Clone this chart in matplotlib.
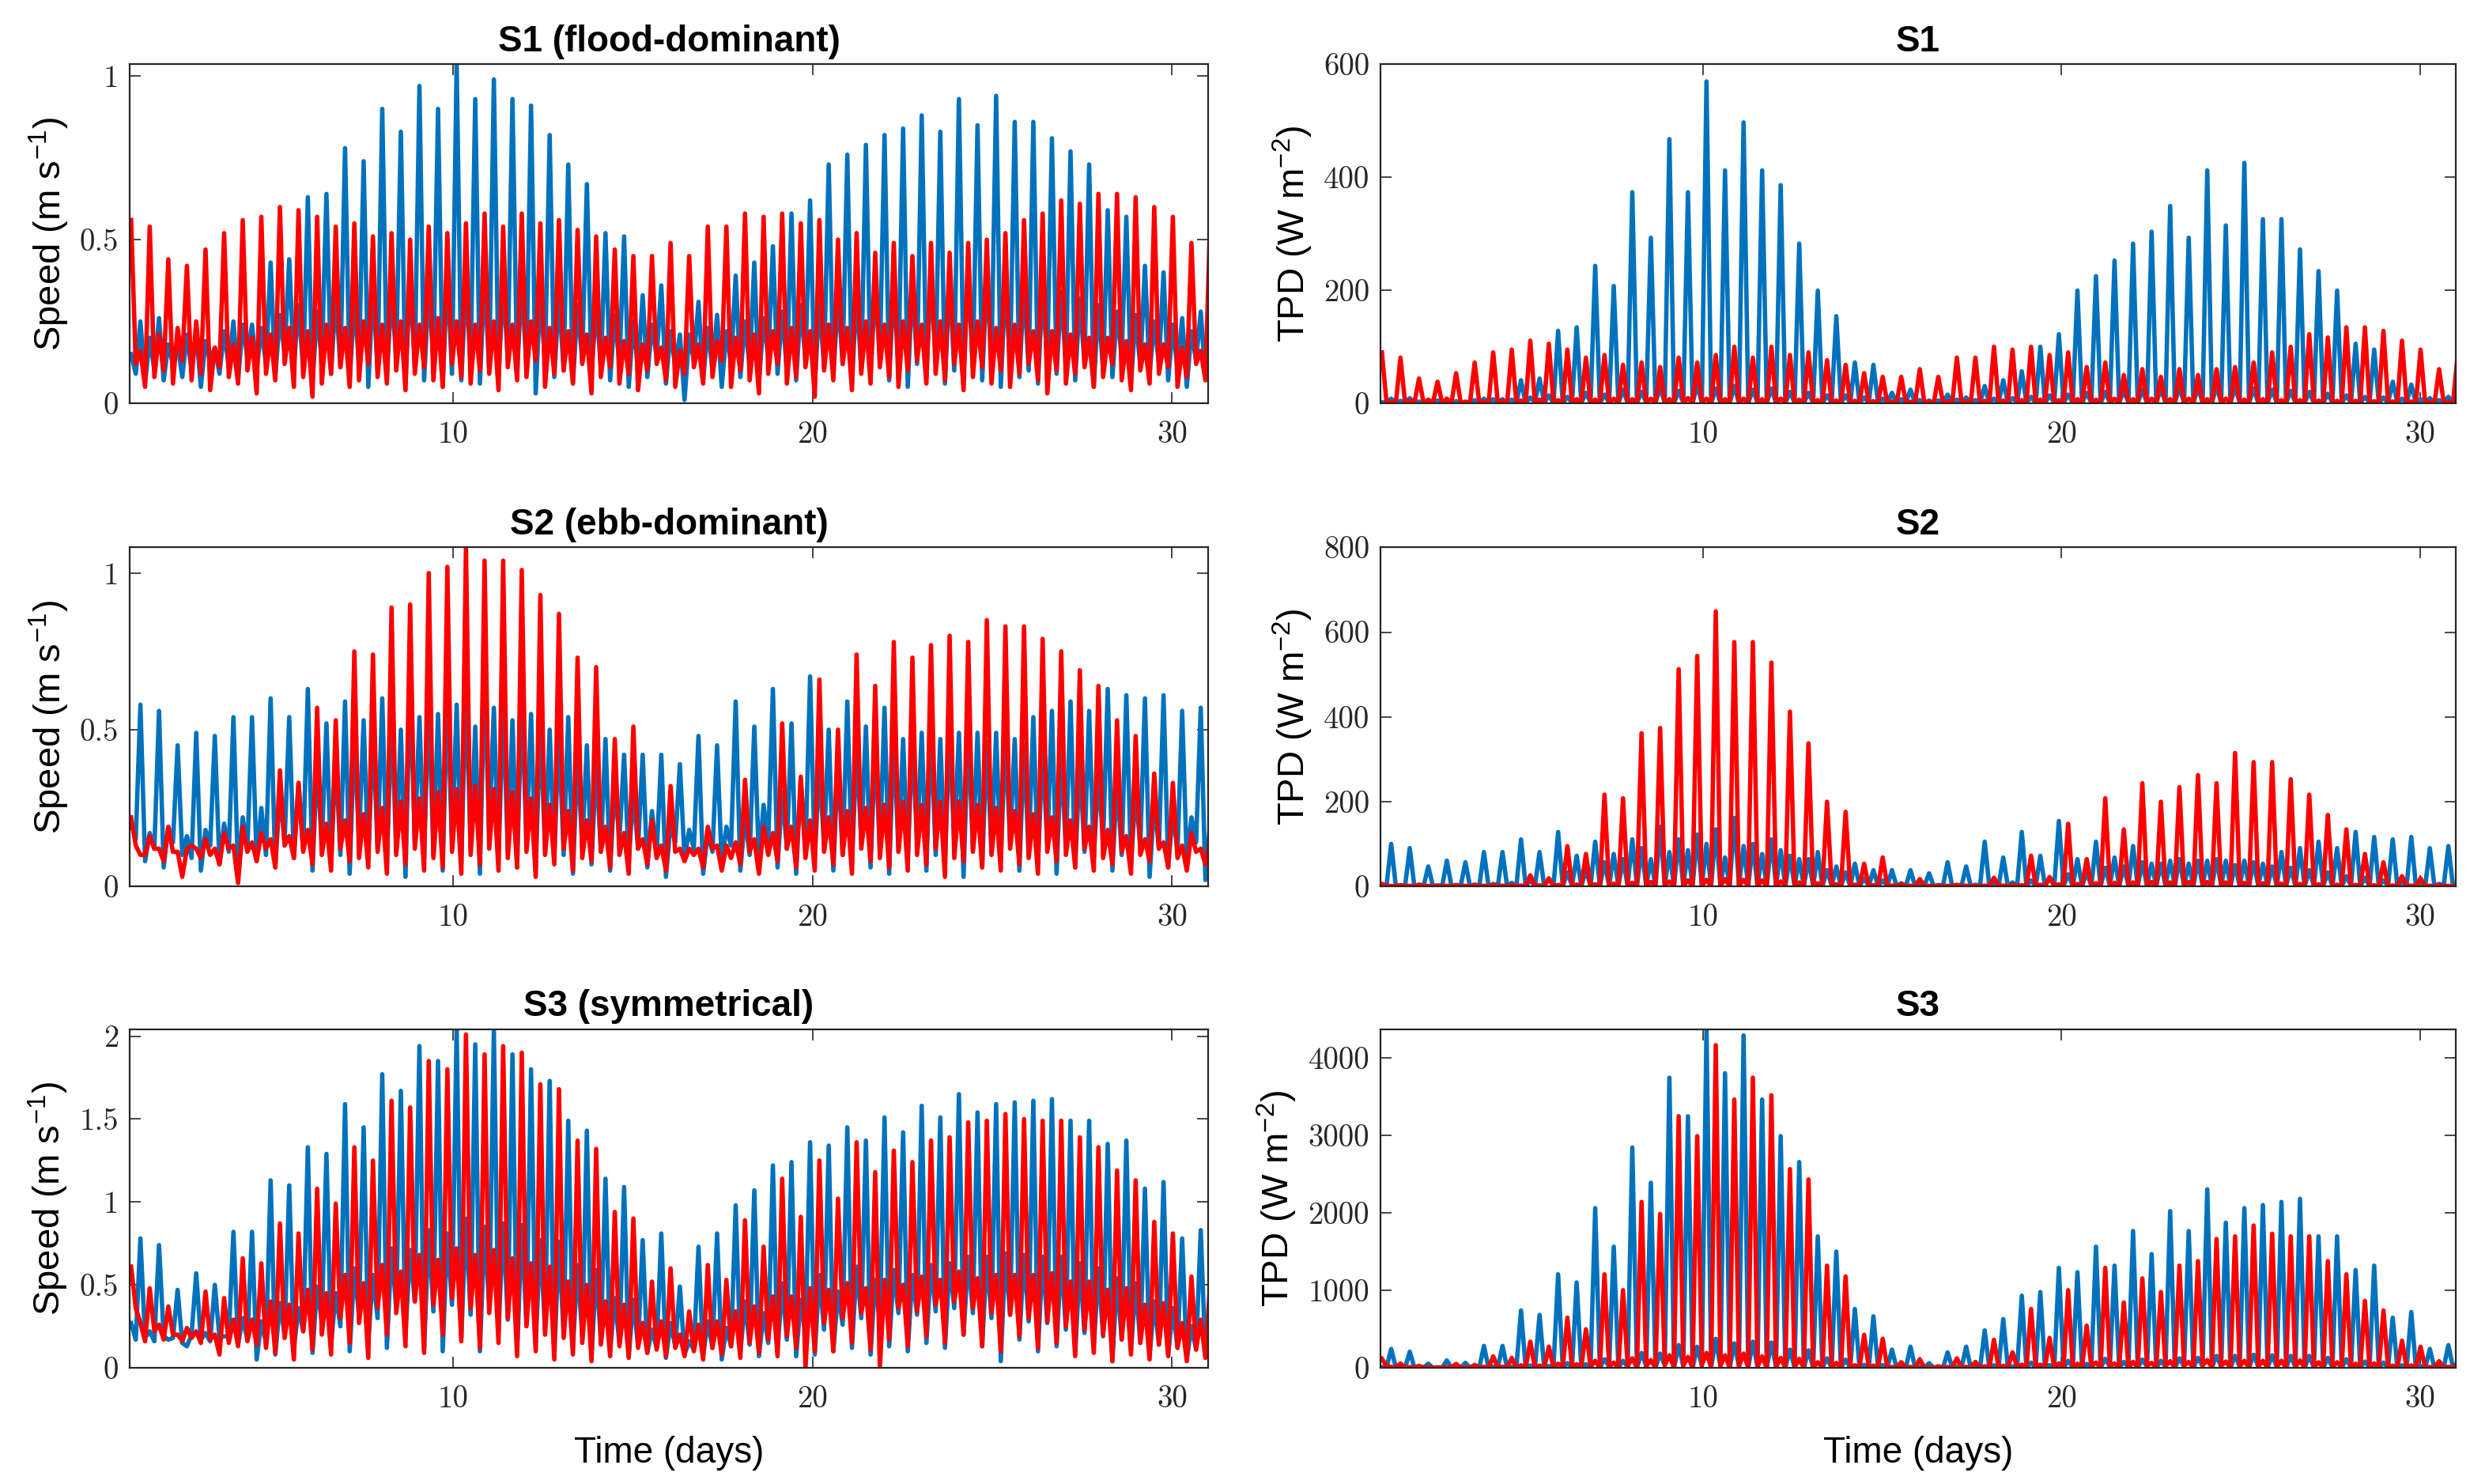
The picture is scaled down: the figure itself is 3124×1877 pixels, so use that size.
import numpy as np
import matplotlib
matplotlib.use("Agg")
import matplotlib.pyplot as plt
from matplotlib.ticker import FuncFormatter

# samples are taken every quarter of an M2 cycle:
# ebb peak, trough, flood peak, trough, next ebb peak, ...
T_START = 1.04      # days, time of the first ebb peak
PERIOD = 0.5175     # days, semidiurnal cycle
RHO = 1025.0        # kg m-3, used for TPD = 0.5 rho U^3

BLUE = "#0072BD"
RED = "#FF0000"
AXIS_GREY = "#262626"

TITLES_SPEED = ["S1 (flood-dominant)", "S2 (ebb-dominant)", "S3 (symmetrical)"]
TITLES_TPD = ["S1", "S2", "S3"]
DAY_TICKS = [10, 20, 30]
SPEED_TICKS = [[0, 0.5, 1], [0, 0.5, 1], [0, 0.5, 1, 1.5, 2]]
TPD_TICKS = [[0, 200, 400, 600], [0, 200, 400, 600, 800], [0, 1000, 2000, 3000, 4000]]
TPD_TOP = [600, 800, None]   # None -> tight to the data

# ---------------- S1 ----------------
s1_blue_flood = [
    0.25, 0.26, 0.18, 0.22, 0.17, 0.25, 0.24, 0.43, 0.44, 0.63,
    0.64, 0.78, 0.74, 0.90, 0.83, 0.97, 0.90, 1.036, 0.93, 0.99,
    0.93, 0.91, 0.82, 0.73, 0.67, 0.52, 0.51, 0.33, 0.36, 0.21,
    0.31, 0.27, 0.39, 0.43, 0.48, 0.58, 0.62, 0.73, 0.76, 0.79,
    0.82, 0.84, 0.88, 0.83, 0.93, 0.85, 0.94, 0.86, 0.86, 0.81,
    0.77, 0.73, 0.59, 0.57, 0.42, 0.40, 0.26, 0.28,
]
s1_blue_ebb = [
    0.15, 0.20, 0.18, 0.21, 0.19, 0.22, 0.24, 0.23, 0.27, 0.30,
    0.28, 0.33, 0.31, 0.36, 0.34, 0.38, 0.35, 0.40, 0.37, 0.39,
    0.36, 0.37, 0.34, 0.33, 0.30, 0.30, 0.27, 0.25, 0.24, 0.22,
    0.21, 0.23, 0.22, 0.25, 0.26, 0.28, 0.30, 0.31, 0.33, 0.34,
    0.35, 0.36, 0.37, 0.38, 0.38, 0.39, 0.38, 0.37, 0.36, 0.35,
    0.34, 0.32, 0.30, 0.28, 0.27, 0.25, 0.24, 0.22, 0.22,
]
s1_blue_trough = [
    0.09, 0.06, 0.10, 0.07, 0.12, 0.08, 0.10, 0.05, 0.13, 0.09,
    0.11, 0.07, 0.14, 0.10, 0.12, 0.08, 0.15, 0.11, 0.10, 0.06,
    0.13, 0.09, 0.11, 0.07, 0.12, 0.05, 0.10, 0.08, 0.14, 0.06,
    0.11, 0.07, 0.13, 0.05, 0.09, 0.07, 0.12, 0.06, 0.10, 0.08,
    0.14, 0.09, 0.11, 0.03, 0.12, 0.08, 0.10, 0.06, 0.13, 0.09,
    0.11, 0.07, 0.12, 0.05, 0.10, 0.08, 0.14, 0.06, 0.11, 0.01,
    0.13, 0.07, 0.10, 0.05, 0.12, 0.08, 0.11, 0.06, 0.14, 0.09,
    0.10, 0.07, 0.13, 0.05, 0.11, 0.08, 0.12, 0.06, 0.10, 0.09,
    0.14, 0.07, 0.11, 0.05, 0.12, 0.08, 0.13, 0.06, 0.10, 0.09,
    0.11, 0.07, 0.14, 0.05, 0.12, 0.08, 0.10, 0.06, 0.13, 0.09,
    0.11, 0.07, 0.12, 0.05, 0.10, 0.08, 0.14, 0.06, 0.11, 0.09,
    0.12, 0.07, 0.10, 0.05, 0.13, 0.08,
]
s1_red_flood = [
    0.16, 0.21, 0.23, 0.25, 0.17, 0.18, 0.20, 0.21, 0.23, 0.22,
    0.24, 0.23, 0.25, 0.24, 0.25, 0.24, 0.26, 0.25, 0.24, 0.25,
    0.24, 0.25, 0.23, 0.22, 0.21, 0.20, 0.19, 0.18, 0.17, 0.16,
    0.18, 0.19, 0.20, 0.21, 0.22, 0.23, 0.22, 0.24, 0.23, 0.25,
    0.24, 0.25, 0.24, 0.25, 0.24, 0.25, 0.23, 0.24, 0.22, 0.22,
    0.21, 0.20, 0.20, 0.19, 0.18, 0.18, 0.17, 0.16,
]
s1_red_ebb = [
    0.56, 0.54, 0.44, 0.42, 0.47, 0.52, 0.56, 0.57, 0.60, 0.59,
    0.57, 0.54, 0.55, 0.51, 0.52, 0.50, 0.54, 0.52, 0.55, 0.58,
    0.54, 0.58, 0.55, 0.56, 0.53, 0.51, 0.47, 0.45, 0.45, 0.49,
    0.45, 0.54, 0.54, 0.58, 0.57, 0.58, 0.55, 0.56, 0.50, 0.52,
    0.46, 0.49, 0.45, 0.49, 0.46, 0.49, 0.50, 0.52, 0.56, 0.58,
    0.62, 0.61, 0.64, 0.64, 0.63, 0.60, 0.57, 0.49, 0.55,
]
s1_red_trough = [
    0.12, 0.05, 0.08, 0.10, 0.06, 0.13, 0.07, 0.09, 0.04, 0.11,
    0.08, 0.06, 0.10, 0.03, 0.09, 0.07, 0.12, 0.05, 0.08, 0.02,
    0.06, 0.09, 0.11, 0.05, 0.07, 0.12, 0.08, 0.06, 0.10, 0.04,
    0.09, 0.11, 0.07, 0.05, 0.12, 0.08, 0.06, 0.10, 0.09, 0.04,
    0.11, 0.07, 0.08, 0.13, 0.05, 0.09, 0.10, 0.06, 0.12, 0.03,
    0.08, 0.11, 0.06, 0.09, 0.04, 0.10, 0.12, 0.07, 0.05, 0.09,
    0.11, 0.06, 0.08, 0.13, 0.05, 0.10, 0.07, 0.03, 0.09, 0.12,
    0.06, 0.08, 0.11, 0.02, 0.10, 0.07, 0.12, 0.04, 0.09, 0.06,
    0.11, 0.08, 0.05, 0.10, 0.13, 0.06, 0.09, 0.07, 0.12, 0.04,
    0.08, 0.11, 0.06, 0.10, 0.05, 0.09, 0.12, 0.07, 0.03, 0.10,
    0.06, 0.09, 0.11, 0.05, 0.08, 0.12, 0.07, 0.04, 0.10, 0.06,
    0.09, 0.11, 0.05, 0.08, 0.12, 0.07,
]

# ---------------- S2 ----------------
s2_blue_flood = [
    0.58, 0.56, 0.45, 0.49, 0.48, 0.54, 0.54, 0.60, 0.54, 0.63,
    0.52, 0.59, 0.53, 0.60, 0.50, 0.54, 0.55, 0.58, 0.51, 0.57,
    0.53, 0.55, 0.50, 0.54, 0.45, 0.47, 0.42, 0.42, 0.42, 0.39,
    0.48, 0.45, 0.59, 0.51, 0.63, 0.52, 0.67, 0.50, 0.59, 0.51,
    0.57, 0.47, 0.49, 0.47, 0.49, 0.49, 0.49, 0.47, 0.54, 0.56,
    0.59, 0.56, 0.63, 0.61, 0.60, 0.61, 0.56, 0.57,
]
s2_blue_ebb = [
    0.20, 0.17, 0.19, 0.16, 0.18, 0.20, 0.22, 0.25, 0.30, 0.33,
    0.40, 0.42, 0.48, 0.50, 0.56, 0.65, 0.60, 0.62, 0.64, 0.68,
    0.58, 0.60, 0.52, 0.50, 0.42, 0.40, 0.33, 0.30, 0.24, 0.20,
    0.18, 0.17, 0.19, 0.22, 0.26, 0.30, 0.34, 0.38, 0.40, 0.44,
    0.45, 0.48, 0.47, 0.50, 0.49, 0.50, 0.46, 0.48, 0.45, 0.44,
    0.42, 0.40, 0.36, 0.34, 0.30, 0.27, 0.24, 0.22, 0.20,
]
s2_blue_trough = [
    0.15, 0.08, 0.12, 0.06, 0.14, 0.10, 0.09, 0.05, 0.13, 0.07,
    0.11, 0.04, 0.12, 0.08, 0.10, 0.06, 0.14, 0.09, 0.12, 0.05,
    0.13, 0.07, 0.10, 0.04, 0.15, 0.08, 0.12, 0.06, 0.11, 0.03,
    0.14, 0.09, 0.10, 0.05, 0.13, 0.07, 0.12, 0.04, 0.16, 0.08,
    0.11, 0.06, 0.14, 0.05, 0.12, 0.09, 0.10, 0.04, 0.13, 0.07,
    0.11, 0.05, 0.15, 0.08, 0.12, 0.06, 0.10, 0.03, 0.14, 0.09,
    0.12, 0.04, 0.11, 0.07, 0.13, 0.05, 0.10, 0.08, 0.14, 0.06,
    0.12, 0.04, 0.11, 0.09, 0.13, 0.05, 0.10, 0.07, 0.15, 0.06,
    0.12, 0.04, 0.11, 0.08, 0.14, 0.05, 0.10, 0.07, 0.13, 0.03,
    0.12, 0.06, 0.11, 0.08, 0.14, 0.05, 0.10, 0.07, 0.13, 0.04,
    0.12, 0.06, 0.11, 0.09, 0.14, 0.05, 0.10, 0.07, 0.13, 0.03,
    0.12, 0.06, 0.11, 0.08, 0.14, 0.02,
]
s2_red_flood = [
    0.10, 0.12, 0.11, 0.12, 0.12, 0.13, 0.14, 0.15, 0.16, 0.18,
    0.20, 0.21, 0.23, 0.25, 0.27, 0.28, 0.30, 0.31, 0.32, 0.31,
    0.30, 0.28, 0.26, 0.24, 0.21, 0.19, 0.17, 0.15, 0.13, 0.12,
    0.12, 0.13, 0.14, 0.15, 0.17, 0.19, 0.21, 0.22, 0.24, 0.25,
    0.26, 0.27, 0.26, 0.27, 0.27, 0.26, 0.25, 0.24, 0.23, 0.22,
    0.21, 0.19, 0.18, 0.16, 0.15, 0.14, 0.13, 0.12,
]
s2_red_ebb = [
    0.22, 0.16, 0.19, 0.12, 0.15, 0.17, 0.19, 0.17, 0.37, 0.33,
    0.57, 0.53, 0.75, 0.74, 0.89, 0.90, 1.00, 1.02, 1.082, 1.04,
    1.04, 1.01, 0.93, 0.87, 0.73, 0.70, 0.47, 0.51, 0.21, 0.32,
    0.12, 0.19, 0.13, 0.34, 0.19, 0.52, 0.35, 0.66, 0.50, 0.74,
    0.64, 0.78, 0.73, 0.77, 0.80, 0.78, 0.85, 0.83, 0.83, 0.79,
    0.75, 0.69, 0.64, 0.53, 0.48, 0.36, 0.33, 0.17, 0.15,
]
s2_red_trough = [
    0.13, 0.10, 0.12, 0.08, 0.11, 0.03, 0.13, 0.09, 0.10, 0.07,
    0.12, 0.01, 0.11, 0.08, 0.12, 0.06, 0.13, 0.09, 0.11, 0.07,
    0.10, 0.05, 0.12, 0.08, 0.09, 0.06, 0.11, 0.04, 0.10, 0.07,
    0.12, 0.05, 0.09, 0.06, 0.11, 0.04, 0.10, 0.07, 0.12, 0.05,
    0.09, 0.06, 0.11, 0.03, 0.10, 0.07, 0.12, 0.05, 0.09, 0.08,
    0.11, 0.06, 0.10, 0.04, 0.12, 0.07, 0.09, 0.05, 0.11, 0.08,
    0.10, 0.06, 0.12, 0.05, 0.09, 0.07, 0.11, 0.04, 0.10, 0.08,
    0.12, 0.06, 0.09, 0.05, 0.11, 0.07, 0.10, 0.04, 0.12, 0.08,
    0.09, 0.06, 0.11, 0.05, 0.10, 0.07, 0.12, 0.03, 0.09, 0.08,
    0.11, 0.06, 0.10, 0.05, 0.12, 0.07, 0.09, 0.04, 0.11, 0.08,
    0.10, 0.06, 0.12, 0.05, 0.09, 0.07, 0.11, 0.04, 0.10, 0.08,
    0.12, 0.06, 0.09, 0.05, 0.11, 0.07,
]

# ---------------- S3 ----------------
s3_blue_flood = [
    0.78, 0.74, 0.47, 0.57, 0.50, 0.82, 0.82, 1.13, 1.10, 1.33,
    1.29, 1.59, 1.45, 1.77, 1.67, 1.94, 1.85, 2.043, 1.95, 2.03,
    1.89, 1.80, 1.73, 1.49, 1.43, 1.14, 1.09, 0.77, 0.81, 0.49,
    0.73, 0.81, 0.98, 1.07, 1.22, 1.24, 1.36, 1.34, 1.45, 1.37,
    1.51, 1.42, 1.58, 1.51, 1.65, 1.54, 1.59, 1.60, 1.61, 1.62,
    1.49, 1.49, 1.35, 1.37, 1.08, 1.12, 0.78, 0.83,
]
s3_blue_ebb = [
    0.27, 0.22, 0.17, 0.13, 0.21, 0.19, 0.30, 0.28, 0.39, 0.36,
    0.49, 0.45, 0.60, 0.56, 0.72, 0.71, 0.83, 0.81, 0.90, 0.85,
    0.87, 0.86, 0.77, 0.76, 0.62, 0.59, 0.42, 0.41, 0.23, 0.27,
    0.16, 0.28, 0.24, 0.40, 0.33, 0.51, 0.41, 0.56, 0.46, 0.61,
    0.53, 0.59, 0.56, 0.62, 0.63, 0.67, 0.67, 0.69, 0.68, 0.67,
    0.67, 0.63, 0.60, 0.54, 0.51, 0.40, 0.36, 0.25, 0.23,
]
s3_blue_trough = [
    0.17, 0.18, 0.16, 0.19, 0.18, 0.15, 0.20, 0.17, 0.16, 0.18,
    0.19, 0.14, 0.17, 0.05, 0.15, 0.08, 0.20, 0.12, 0.22, 0.09,
    0.28, 0.14, 0.25, 0.10, 0.32, 0.16, 0.30, 0.12, 0.36, 0.20,
    0.40, 0.11, 0.34, 0.10, 0.38, 0.18, 0.32, 0.10, 0.36, 0.21,
    0.29, 0.08, 0.26, 0.15, 0.23, 0.07, 0.20, 0.12, 0.19, 0.06,
    0.17, 0.10, 0.15, 0.07, 0.13, 0.09, 0.12, 0.06, 0.13, 0.08,
    0.11, 0.07, 0.12, 0.05, 0.13, 0.09, 0.14, 0.07, 0.15, 0.10,
    0.17, 0.07, 0.20, 0.08, 0.23, 0.10, 0.26, 0.12, 0.30, 0.08,
    0.28, 0.13, 0.33, 0.10, 0.32, 0.15, 0.34, 0.12, 0.36, 0.20,
    0.33, 0.13, 0.30, 0.04, 0.32, 0.17, 0.28, 0.10, 0.27, 0.13,
    0.23, 0.08, 0.21, 0.12, 0.19, 0.04, 0.17, 0.10, 0.15, 0.07,
    0.14, 0.08, 0.12, 0.05, 0.11, 0.07,
]
s3_red_flood = [
    0.27, 0.26, 0.20, 0.22, 0.20, 0.29, 0.29, 0.40, 0.38, 0.47,
    0.45, 0.56, 0.51, 0.62, 0.58, 0.68, 0.65, 0.72, 0.68, 0.71,
    0.66, 0.63, 0.61, 0.52, 0.50, 0.40, 0.38, 0.27, 0.28, 0.20,
    0.26, 0.28, 0.34, 0.37, 0.43, 0.43, 0.48, 0.47, 0.51, 0.48,
    0.53, 0.50, 0.55, 0.53, 0.58, 0.54, 0.56, 0.56, 0.56, 0.57,
    0.52, 0.52, 0.47, 0.48, 0.38, 0.39, 0.27, 0.29,
]
s3_red_ebb = [
    0.61, 0.48, 0.37, 0.24, 0.46, 0.42, 0.66, 0.63, 0.87, 0.81,
    1.08, 0.99, 1.33, 1.25, 1.61, 1.57, 1.85, 1.80, 2.01, 1.89,
    1.94, 1.90, 1.71, 1.68, 1.37, 1.32, 0.94, 0.90, 0.52, 0.60,
    0.34, 0.62, 0.53, 0.89, 0.73, 1.14, 0.91, 1.25, 1.02, 1.36,
    1.18, 1.31, 1.24, 1.37, 1.39, 1.48, 1.49, 1.53, 1.50, 1.49,
    1.49, 1.39, 1.33, 1.19, 1.13, 0.88, 0.81, 0.55, 0.50,
]
s3_red_trough = [
    0.36, 0.16, 0.22, 0.17, 0.20, 0.16, 0.18, 0.15, 0.17, 0.08,
    0.15, 0.13, 0.16, 0.14, 0.12, 0.09, 0.18, 0.05, 0.22, 0.11,
    0.20, 0.08, 0.30, 0.15, 0.27, 0.06, 0.36, 0.20, 0.33, 0.13,
    0.40, 0.09, 0.38, 0.20, 0.42, 0.16, 0.36, 0.12, 0.33, 0.15,
    0.30, 0.07, 0.25, 0.10, 0.20, 0.05, 0.18, 0.08, 0.15, 0.04,
    0.14, 0.07, 0.13, 0.06, 0.12, 0.09, 0.11, 0.07, 0.12, 0.07,
    0.10, 0.05, 0.12, 0.08, 0.13, 0.06, 0.15, 0.09, 0.17, 0.07,
    0.19, 0.12, 0.00, 0.10, 0.27, 0.10, 0.30, 0.15, 0.33, 0.11,
    0.00, 0.17, 0.36, 0.13, 0.34, 0.19, 0.38, 0.15, 0.40, 0.20,
    0.36, 0.13, 0.33, 0.10, 0.32, 0.19, 0.30, 0.12, 0.28, 0.15,
    0.25, 0.07, 0.23, 0.09, 0.20, 0.04, 0.17, 0.08, 0.15, 0.05,
    0.14, 0.07, 0.12, 0.04, 0.11, 0.06,
]

SITES = [
    ((s1_blue_ebb, s1_blue_flood, s1_blue_trough), (s1_red_ebb, s1_red_flood, s1_red_trough)),
    ((s2_blue_ebb, s2_blue_flood, s2_blue_trough), (s2_red_ebb, s2_red_flood, s2_red_trough)),
    ((s3_blue_ebb, s3_blue_flood, s3_blue_trough), (s3_red_ebb, s3_red_flood, s3_red_trough)),
]


def build_series(ebb, flood, trough):
    vals = []
    for k in range(len(flood)):
        vals += [ebb[k], trough[2 * k], flood[k], trough[2 * k + 1]]
    vals.append(ebb[len(flood)])
    vals = np.array(vals)
    t = T_START + np.arange(len(vals)) * PERIOD / 4
    return t, vals


def style_axes(ax, yticks, title, ylabel):
    ax.set_xlim(1, 31)
    ax.set_xticks(DAY_TICKS)
    ax.set_yticks(yticks)
    ax.xaxis.set_major_formatter(FuncFormatter(lambda v, p: "%g" % v))
    ax.yaxis.set_major_formatter(FuncFormatter(lambda v, p: "%g" % v))
    ax.tick_params(direction="in", length=5, width=0.6, top=True, right=True,
                   labelsize=14, colors=AXIS_GREY)
    ax.tick_params(axis="x", pad=8)
    ax.tick_params(axis="y", pad=5)
    for sp in ax.spines.values():
        sp.set_color(AXIS_GREY)
        sp.set_linewidth(0.8)
    ax.set_title(title, fontsize=16.5, fontweight="bold", family="Liberation Sans", pad=6)
    ax.set_ylabel(ylabel, fontsize=17, family="Liberation Sans", labelpad=4, color="black")


plt.rcParams["font.family"] = "cmr10"
plt.rcParams["mathtext.fontset"] = "custom"
plt.rcParams["mathtext.rm"] = "Liberation Sans"
plt.rcParams["mathtext.it"] = "Liberation Sans:italic"
plt.rcParams["mathtext.bf"] = "Liberation Sans:bold"

fig = plt.figure(figsize=(15.62, 9.385), dpi=200)

left_x, left_w = 0.0525, 0.4366
right_x, right_w = 0.5589, 0.4353
row_bottoms = [0.7283, 0.4028, 0.0783]
row_h = 0.2283

for i, (blue_parts, red_parts) in enumerate(SITES):
    tb, ub = build_series(*blue_parts)
    tr, ur = build_series(*red_parts)

    ax = fig.add_axes([left_x, row_bottoms[i], left_w, row_h])
    ax.plot(tb, ub, color=BLUE, lw=2.0)
    ax.plot(tr, ur, color=RED, lw=2.0)
    ax.set_ylim(0, max(ub.max(), ur.max()))
    style_axes(ax, SPEED_TICKS[i], TITLES_SPEED[i], "Speed (m s$^{-1}$)")
    if i == 2:
        ax.set_xlabel("Time (days)", fontsize=16.5, family="Liberation Sans", labelpad=10)

    pb = 0.5 * RHO * ub ** 3
    pr = 0.5 * RHO * ur ** 3
    ax2 = fig.add_axes([right_x, row_bottoms[i], right_w, row_h])
    ax2.plot(tb, pb, color=BLUE, lw=2.0)
    ax2.plot(tr, pr, color=RED, lw=2.0)
    top = TPD_TOP[i] if TPD_TOP[i] is not None else max(pb.max(), pr.max())
    ax2.set_ylim(0, top)
    style_axes(ax2, TPD_TICKS[i], TITLES_TPD[i], "TPD (W m$^{-2}$)")
    if i == 2:
        ax2.set_xlabel("Time (days)", fontsize=16.5, family="Liberation Sans", labelpad=10)

fig.savefig("out.png", dpi=200, facecolor="white")
plt.close(fig)
